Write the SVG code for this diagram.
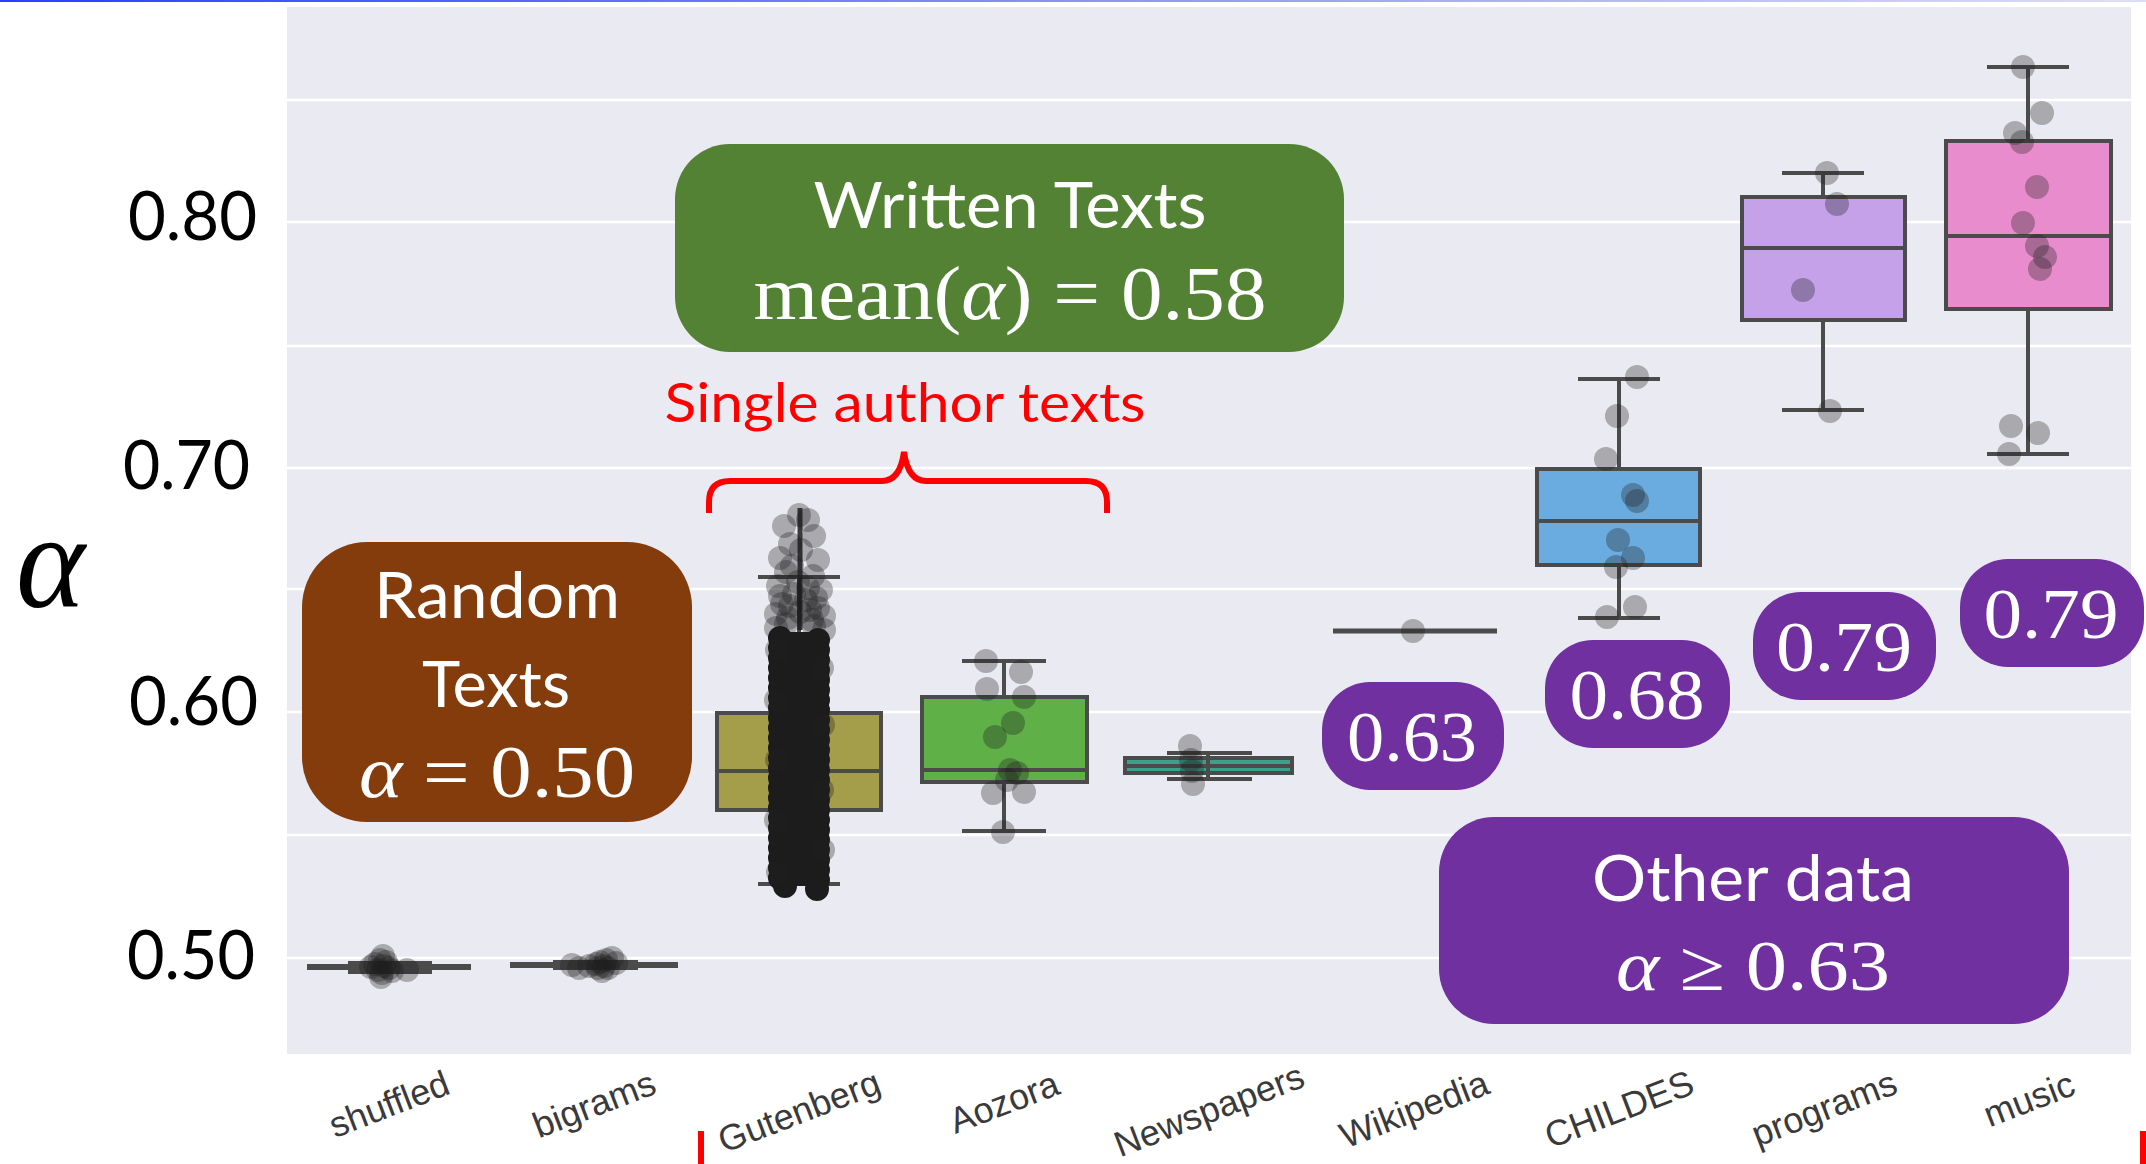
<svg xmlns="http://www.w3.org/2000/svg" width="2146" height="1164" viewBox="0 0 2146 1164">
<defs>
  <linearGradient id="topRule" x1="0" x2="1" y1="0" y2="0">
    <stop offset="0" stop-color="#2b3cff"/>
    <stop offset="0.5" stop-color="#8c93f2"/>
    <stop offset="1" stop-color="#dedef6"/>
  </linearGradient>
</defs>
<style>
  .grid{stroke:#ffffff;stroke-width:2.5}
  .bx{stroke:#4b4b4b;stroke-width:4}
  .wk{stroke:#4b4b4b;stroke-width:4;fill:none}
  .pt{fill:#1e1e1e;fill-opacity:.32}
  .tick{font-family:Lato,"Open Sans",sans-serif;font-size:67px;fill:#000000}
  .cat{font-family:"Liberation Sans",Arial,sans-serif;font-size:36px;fill:#3a3a3a;text-anchor:middle;dominant-baseline:central}
  .lbl{font-family:Lato,"Open Sans",sans-serif;font-size:64px;fill:#ffffff;text-anchor:middle}
  .math{font-family:"Liberation Serif","Times New Roman",serif;fill:#ffffff;text-anchor:middle}
  .it{font-style:italic}
  .pill{fill:#7030a0}
  .dense{stroke:#1c1c1c;stroke-width:24;stroke-linecap:round;stroke-dasharray:0 10;fill:none}
</style>

<!-- page -->
<rect x="0" y="0" width="2146" height="1164" fill="#ffffff"/>
<rect x="0" y="0" width="2146" height="2" fill="url(#topRule)"/>

<!-- axes area -->
<g id="axes">
  <rect x="287" y="7" width="1844" height="1047" fill="#eaeaf2"/>
  <line class="grid" x1="287" y1="100" x2="2131" y2="100"/>
  <line class="grid" x1="287" y1="222" x2="2131" y2="222"/>
  <line class="grid" x1="287" y1="346" x2="2131" y2="346"/>
  <line class="grid" x1="287" y1="468" x2="2131" y2="468"/>
  <line class="grid" x1="287" y1="589" x2="2131" y2="589"/>
  <line class="grid" x1="287" y1="712" x2="2131" y2="712"/>
  <line class="grid" x1="287" y1="835" x2="2131" y2="835"/>
  <line class="grid" x1="287" y1="958" x2="2131" y2="958"/>
</g>

<!-- y ticks and axis symbol -->
<g id="y-axis">
  <text class="tick" x="128" y="240" textLength="129" lengthAdjust="spacingAndGlyphs">0.80</text>
  <text class="tick" x="123" y="489" textLength="127" lengthAdjust="spacingAndGlyphs">0.70</text>
  <text class="tick" x="129" y="725" textLength="129" lengthAdjust="spacingAndGlyphs">0.60</text>
  <text class="tick" x="127" y="979" textLength="128" lengthAdjust="spacingAndGlyphs">0.50</text>
  <text x="16" y="607" font-family="'Liberation Serif','Times New Roman',serif" font-style="italic" font-size="135" fill="#000000" textLength="69" lengthAdjust="spacingAndGlyphs">α</text>
</g>

<!-- box plots -->
<g id="box-shuffled">
  <rect x="307" y="964" width="164" height="6" fill="#4b4b4b"/>
  <rect x="348" y="961" width="84" height="13" fill="#4b4b4b"/>
  <circle class="pt" cx="380" cy="960" r="12"/>
  <circle class="pt" cx="384" cy="966" r="12"/>
  <circle class="pt" cx="378" cy="970" r="12"/>
  <circle class="pt" cx="386" cy="962" r="12"/>
  <circle class="pt" cx="382" cy="973" r="12"/>
  <circle class="pt" cx="375" cy="964" r="12"/>
  <circle class="pt" cx="389" cy="968" r="12"/>
  <circle class="pt" cx="383" cy="956" r="12"/>
  <circle class="pt" cx="381" cy="977" r="12"/>
  <circle class="pt" cx="371" cy="967" r="12"/>
  <circle class="pt" cx="392" cy="971" r="12"/>
  <circle class="pt" cx="407" cy="970" r="12"/>
</g>

<g id="box-bigrams">
  <rect x="510" y="962" width="168" height="6" fill="#4b4b4b"/>
  <rect x="553" y="960" width="85" height="10" fill="#4b4b4b"/>
  <circle class="pt" cx="600" cy="962" r="12"/>
  <circle class="pt" cx="604" cy="966" r="12"/>
  <circle class="pt" cx="598" cy="968" r="12"/>
  <circle class="pt" cx="606" cy="960" r="12"/>
  <circle class="pt" cx="602" cy="971" r="12"/>
  <circle class="pt" cx="596" cy="964" r="12"/>
  <circle class="pt" cx="608" cy="968" r="12"/>
  <circle class="pt" cx="612" cy="958" r="12"/>
  <circle class="pt" cx="589" cy="966" r="12"/>
  <circle class="pt" cx="579" cy="968" r="12"/>
  <circle class="pt" cx="572" cy="965" r="12"/>
  <circle class="pt" cx="616" cy="963" r="12"/>
</g>

<g id="box-gutenberg">
  <rect class="bx" x="717" y="713" width="164" height="97" fill="#a49d4a"/>
  <line class="wk" x1="717" y1="771" x2="881" y2="771"/>
  <line class="wk" x1="799" y1="577" x2="799" y2="713"/>
  <line class="wk" x1="799" y1="810" x2="799" y2="884"/>
  <line class="wk" x1="758" y1="577" x2="840" y2="577"/>
  <line class="wk" x1="758" y1="884" x2="840" y2="884"/>
  <!-- sparse upper tail of the strip -->
  <circle class="pt" cx="784" cy="526" r="12"/>
  <circle class="pt" cx="808" cy="520" r="12"/>
  <circle class="pt" cx="799" cy="515" r="12"/>
  <circle class="pt" cx="814" cy="536" r="12"/>
  <circle class="pt" cx="790" cy="544" r="12"/>
  <circle class="pt" cx="780" cy="558" r="12"/>
  <circle class="pt" cx="818" cy="560" r="12"/>
  <circle class="pt" cx="801" cy="550" r="12"/>
  <circle class="pt" cx="786" cy="572" r="12"/>
  <circle class="pt" cx="813" cy="576" r="12"/>
  <circle class="pt" cx="778" cy="586" r="12"/>
  <circle class="pt" cx="821" cy="590" r="12"/>
  <circle class="pt" cx="794" cy="594" r="12"/>
  <circle class="pt" cx="806" cy="600" r="12"/>
  <circle class="pt" cx="782" cy="604" r="12"/>
  <circle class="pt" cx="818" cy="608" r="12"/>
  <circle class="pt" cx="798" cy="582" r="12"/>
  <circle class="pt" cx="776" cy="614" r="12"/>
  <circle class="pt" cx="824" cy="616" r="12"/>
  <circle class="pt" cx="800" cy="612" r="12"/>
  <circle class="pt" cx="788" cy="618" r="12"/>
  <circle class="pt" cx="812" cy="620" r="12"/>
  <circle class="pt" cx="780" cy="596" r="12"/>
  <circle class="pt" cx="816" cy="598" r="12"/>
  <circle class="pt" cx="792" cy="566" r="12"/>
  <circle class="pt" cx="808" cy="588" r="12"/>
  <circle class="pt" cx="776" cy="628" r="12"/>
  <circle class="pt" cx="824" cy="630" r="12"/>
  <circle class="pt" cx="790" cy="606" r="12"/>
  <circle class="pt" cx="810" cy="610" r="12"/>
  <circle class="pt" cx="786" cy="624" r="12"/>
  <circle class="pt" cx="814" cy="626" r="12"/>
  <line x1="800" y1="508" x2="800" y2="630" stroke="#1c1c1c" stroke-width="5" stroke-opacity=".85"/>
  <!-- dense core of the strip -->
  <rect x="776" y="632" width="46" height="254" fill="#1c1c1c"/>
  <line class="dense" x1="780" y1="638" x2="780" y2="884"/>
  <line class="dense" x1="818" y1="640" x2="818" y2="886"/>
  <circle cx="785" cy="886" r="12" fill="#1c1c1c"/>
  <circle cx="817" cy="889" r="12" fill="#1c1c1c"/>
  <!-- soft fringe along the core -->
  <circle class="pt" cx="777" cy="650" r="12"/>
  <circle class="pt" cx="822" cy="668" r="12"/>
  <circle class="pt" cx="776" cy="700" r="12"/>
  <circle class="pt" cx="823" cy="725" r="12"/>
  <circle class="pt" cx="777" cy="760" r="12"/>
  <circle class="pt" cx="822" cy="790" r="12"/>
  <circle class="pt" cx="776" cy="820" r="12"/>
  <circle class="pt" cx="823" cy="850" r="12"/>
  <circle class="pt" cx="778" cy="872" r="12"/>
</g>

<g id="box-aozora">
  <rect class="bx" x="922" y="697" width="165" height="85" fill="#5eb047"/>
  <line class="wk" x1="922" y1="770" x2="1087" y2="770"/>
  <line class="wk" x1="1004" y1="661" x2="1004" y2="697"/>
  <line class="wk" x1="1004" y1="782" x2="1004" y2="831"/>
  <line class="wk" x1="962" y1="661" x2="1046" y2="661"/>
  <line class="wk" x1="962" y1="831" x2="1046" y2="831"/>
  <circle class="pt" cx="986" cy="661" r="12"/>
  <circle class="pt" cx="1021" cy="672" r="12"/>
  <circle class="pt" cx="987" cy="689" r="12"/>
  <circle class="pt" cx="1024" cy="697" r="12"/>
  <circle class="pt" cx="1013" cy="723" r="12"/>
  <circle class="pt" cx="995" cy="737" r="12"/>
  <circle class="pt" cx="1010" cy="770" r="12"/>
  <circle class="pt" cx="1017" cy="773" r="12"/>
  <circle class="pt" cx="1007" cy="780" r="12"/>
  <circle class="pt" cx="993" cy="793" r="12"/>
  <circle class="pt" cx="1024" cy="792" r="12"/>
  <circle class="pt" cx="1003" cy="832" r="12"/>
</g>

<g id="box-newspapers">
  <rect class="bx" x="1125" y="758" width="167" height="15" fill="#3ca08b"/>
  <line class="wk" x1="1125" y1="766" x2="1292" y2="766"/>
  <line class="wk" x1="1208" y1="753" x2="1208" y2="779"/>
  <line class="wk" x1="1167" y1="753" x2="1252" y2="753"/>
  <line class="wk" x1="1167" y1="779" x2="1252" y2="779"/>
  <circle class="pt" cx="1190" cy="746" r="12"/>
  <circle class="pt" cx="1191" cy="760" r="12"/>
  <circle class="pt" cx="1192" cy="771" r="12"/>
  <circle class="pt" cx="1193" cy="784" r="12"/>
</g>

<g id="box-wikipedia">
  <line x1="1333" y1="631" x2="1497" y2="631" stroke="#4b4b4b" stroke-width="5"/>
  <circle class="pt" cx="1413" cy="631" r="12"/>
</g>

<g id="box-childes">
  <rect class="bx" x="1537" y="469" width="163" height="96" fill="#6aace0"/>
  <line class="wk" x1="1537" y1="521" x2="1700" y2="521"/>
  <line class="wk" x1="1619" y1="379" x2="1619" y2="469"/>
  <line class="wk" x1="1619" y1="565" x2="1619" y2="618"/>
  <line class="wk" x1="1578" y1="379" x2="1660" y2="379"/>
  <line class="wk" x1="1578" y1="618" x2="1660" y2="618"/>
  <circle class="pt" cx="1637" cy="377" r="12"/>
  <circle class="pt" cx="1617" cy="416" r="12"/>
  <circle class="pt" cx="1606" cy="459" r="12"/>
  <circle class="pt" cx="1633" cy="495" r="12"/>
  <circle class="pt" cx="1637" cy="501" r="12"/>
  <circle class="pt" cx="1618" cy="540" r="12"/>
  <circle class="pt" cx="1633" cy="558" r="12"/>
  <circle class="pt" cx="1616" cy="567" r="12"/>
  <circle class="pt" cx="1635" cy="607" r="12"/>
  <circle class="pt" cx="1607" cy="617" r="12"/>
</g>

<g id="box-programs">
  <rect class="bx" x="1742" y="197" width="163" height="123" fill="#c5a1ea"/>
  <line class="wk" x1="1742" y1="248" x2="1905" y2="248"/>
  <line class="wk" x1="1823" y1="173" x2="1823" y2="197"/>
  <line class="wk" x1="1823" y1="320" x2="1823" y2="410"/>
  <line class="wk" x1="1782" y1="173" x2="1864" y2="173"/>
  <line class="wk" x1="1782" y1="410" x2="1864" y2="410"/>
  <circle class="pt" cx="1827" cy="173" r="12"/>
  <circle class="pt" cx="1837" cy="204" r="12"/>
  <circle class="pt" cx="1803" cy="290" r="12"/>
  <circle class="pt" cx="1830" cy="411" r="12"/>
</g>

<g id="box-music">
  <rect class="bx" x="1946" y="141" width="165" height="168" fill="#e98ccd"/>
  <line class="wk" x1="1946" y1="236" x2="2111" y2="236"/>
  <line class="wk" x1="2028" y1="67" x2="2028" y2="141"/>
  <line class="wk" x1="2028" y1="309" x2="2028" y2="454"/>
  <line class="wk" x1="1987" y1="67" x2="2069" y2="67"/>
  <line class="wk" x1="1987" y1="454" x2="2069" y2="454"/>
  <circle class="pt" cx="2023" cy="67" r="12"/>
  <circle class="pt" cx="2042" cy="113" r="12"/>
  <circle class="pt" cx="2015" cy="133" r="12"/>
  <circle class="pt" cx="2022" cy="142" r="12"/>
  <circle class="pt" cx="2037" cy="187" r="12"/>
  <circle class="pt" cx="2023" cy="223" r="12"/>
  <circle class="pt" cx="2037" cy="246" r="12"/>
  <circle class="pt" cx="2045" cy="257" r="12"/>
  <circle class="pt" cx="2040" cy="269" r="12"/>
  <circle class="pt" cx="2011" cy="426" r="12"/>
  <circle class="pt" cx="2038" cy="433" r="12"/>
  <circle class="pt" cx="2009" cy="454" r="12"/>
</g>

<!-- category labels -->
<g id="x-axis">
  <text class="cat" x="389" y="1104" transform="rotate(-21 389 1104)">shuffled</text>
  <text class="cat" x="594" y="1104" transform="rotate(-21 594 1104)">bigrams</text>
  <text class="cat" x="799" y="1111" transform="rotate(-21 799 1111)">Gutenberg</text>
  <text class="cat" x="1004" y="1102" transform="rotate(-21 1004 1102)">Aozora</text>
  <text class="cat" x="1209" y="1110" transform="rotate(-21 1209 1110)">Newspapers</text>
  <text class="cat" x="1414" y="1109" transform="rotate(-21 1414 1109)">Wikipedia</text>
  <text class="cat" x="1619" y="1109" transform="rotate(-21 1619 1109)">CHILDES</text>
  <text class="cat" x="1824" y="1108" transform="rotate(-21 1824 1108)">programs</text>
  <text class="cat" x="2029" y="1099" transform="rotate(-21 2029 1099)">music</text>
  <rect x="698" y="1131" width="6" height="33" fill="#ff0000"/>
  <rect x="2140" y="1131" width="6" height="33" fill="#ff0000"/>
</g>

<!-- callouts -->
<g id="random-texts">
  <rect x="302" y="542" width="390" height="280" rx="65" fill="#843c0c"/>
  <text class="lbl" x="497" y="618" textLength="246" lengthAdjust="spacingAndGlyphs">Random</text>
  <text class="lbl" x="496" y="707" textLength="148" lengthAdjust="spacingAndGlyphs">Texts</text>
  <text class="math" x="497" y="797" font-size="74" textLength="276" lengthAdjust="spacingAndGlyphs"><tspan class="it">α</tspan> = 0.50</text>
</g>

<g id="written-texts">
  <rect x="675" y="144" width="669" height="208" rx="55" fill="#548235"/>
  <text class="lbl" x="1010" y="228" textLength="393" lengthAdjust="spacingAndGlyphs">Written Texts</text>
  <text class="math" x="1010" y="319" font-size="76" textLength="513" lengthAdjust="spacingAndGlyphs">mean(<tspan class="it">α</tspan>) = 0.58</text>
</g>

<g id="single-author">
  <text x="905" y="422" font-family="Lato,'Open Sans',sans-serif" font-size="54" fill="#ff0000" text-anchor="middle" textLength="481" lengthAdjust="spacingAndGlyphs">Single author texts</text>
</g>

<g id="other-data">
  <rect x="1439" y="817" width="630" height="207" rx="55" fill="#7030a0"/>
  <text class="lbl" x="1753" y="901" textLength="322" lengthAdjust="spacingAndGlyphs">Other data</text>
  <text class="math" x="1753" y="990" font-size="72" textLength="274" lengthAdjust="spacingAndGlyphs"><tspan class="it">α</tspan> ≥ 0.63</text>
</g>

<g id="value-wikipedia">
  <rect class="pill" x="1322" y="682" width="182" height="108" rx="48"/>
  <text class="math" x="1412" y="761" font-size="72" textLength="130" lengthAdjust="spacingAndGlyphs">0.63</text>
</g>
<g id="value-childes">
  <rect class="pill" x="1545" y="640" width="185" height="108" rx="48"/>
  <text class="math" x="1637" y="719" font-size="72" textLength="135" lengthAdjust="spacingAndGlyphs">0.68</text>
</g>
<g id="value-programs">
  <rect class="pill" x="1753" y="592" width="183" height="108" rx="48"/>
  <text class="math" x="1844" y="671" font-size="72" textLength="136" lengthAdjust="spacingAndGlyphs">0.79</text>
</g>
<g id="value-music">
  <rect class="pill" x="1960" y="559" width="184" height="108" rx="48"/>
  <text class="math" x="2051" y="638" font-size="72" textLength="135" lengthAdjust="spacingAndGlyphs">0.79</text>
</g>

<!-- brace grouping Gutenberg and Aozora -->
<g id="connectors">
  <path d="M709,513 L709,502 Q709,481 730,481 L882,481 Q900,481 904,452 Q908,481 926,481 L1086,481 Q1107,481 1107,502 L1107,513" fill="none" stroke="#ff0000" stroke-width="6"/>
</g>
</svg>
